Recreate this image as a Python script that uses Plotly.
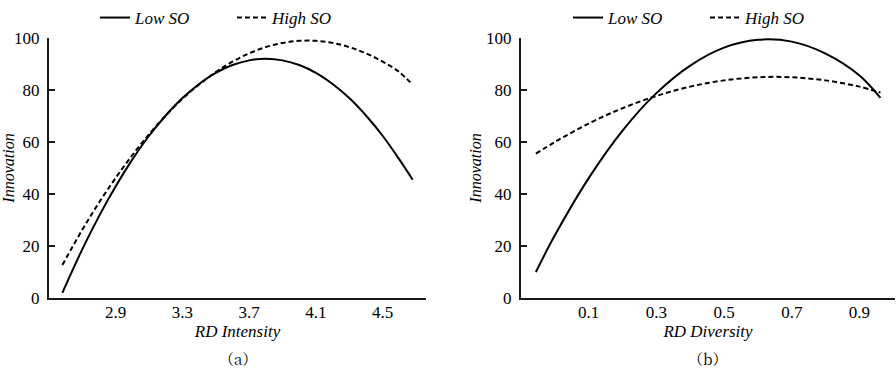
import plotly.graph_objects as go

# ---- data ----
intensity_x = [2.58, 2.7, 2.8, 2.9, 3.0, 3.1, 3.2, 3.3, 3.4, 3.5, 3.6, 3.7, 3.8, 3.9,
               4.0, 4.1, 4.2, 4.3, 4.4, 4.5, 4.6, 4.68]
intensity_low = [2.0, 18.8, 31.5, 43.0, 53.3, 62.4, 70.2, 76.9, 82.3, 86.6, 89.6, 91.4, 92.0,
                 91.4, 89.6, 86.6, 82.3, 76.9, 70.2, 62.4, 53.3, 45.5]
intensity_high = [12.7, 26.3, 36.7, 46.2, 55.0, 63.0, 70.2, 76.6, 82.1, 86.9, 90.9, 94.1, 96.5,
                  98.1, 98.9, 98.9, 98.1, 96.5, 94.1, 90.9, 86.9, 82.0]

diversity_x = [-0.056, 0.0, 0.1, 0.2, 0.3, 0.4, 0.5, 0.6, 0.7, 0.8, 0.9, 0.962]
diversity_low = [10.0, 24.1, 46.1, 64.4, 78.8, 89.4, 96.3, 99.3, 98.6, 94.0, 85.6, 77.0]
diversity_high = [55.5, 60.0, 67.1, 73.0, 77.7, 81.3, 83.7, 84.9, 84.9, 83.7, 81.3, 79.0]

intensity_ticks = [2.9, 3.3, 3.7, 4.1, 4.5]
diversity_ticks = [0.1, 0.3, 0.5, 0.7, 0.9]
y_ticks = [0, 20, 40, 60, 80, 100]
series_names = ["Low SO", "High SO"]

FONT = "Liberation Serif"
W, H = 896, 368

fig = go.Figure()

def add_pair(x, low, high, xa, ya, legend):
    fig.add_trace(go.Scatter(x=x, y=low, mode="lines", name=f"<i>{series_names[0]}</i>",
                             line=dict(color="black", width=2, shape="spline", smoothing=1.0),
                             xaxis=xa, yaxis=ya, legend=legend))
    fig.add_trace(go.Scatter(x=x, y=high, mode="lines", name=f"<i>{series_names[1]}</i>",
                             line=dict(color="black", width=2, dash="5px,3px", shape="spline", smoothing=1.0),
                             xaxis=xa, yaxis=ya, legend=legend))

add_pair(intensity_x, intensity_low, intensity_high, "x", "y", "legend")
add_pair(diversity_x, diversity_low, diversity_high, "x2", "y2", "legend2")

ydom = [1 - 298 / H, 1 - 38 / H]
axis_common = dict(showgrid=False, zeroline=False, showline=True, linecolor="#1a1a1a", linewidth=2,
                   tickfont=dict(family=FONT, size=17, color="black"))

xcommon = dict(ticks="", ticklabelstandoff=-2)
ycommon = dict(range=[0, 100], tickvals=y_ticks, ticks="inside", ticklen=6, tickwidth=2,
               tickcolor="#1a1a1a", ticklabelstandoff=4)

fig.update_layout(
    width=W, height=H,
    margin=dict(l=0, r=0, t=0, b=0, autoexpand=False),
    paper_bgcolor="white", plot_bgcolor="white",
    font=dict(family=FONT, color="black"),
    xaxis=dict(domain=[49 / W, 426 / W], range=[2.5, 4.76], tickvals=intensity_ticks,
               ticktext=[f"{v:.1f}" for v in intensity_ticks],
               title=dict(text="<i>RD Intensity</i>", font=dict(family=FONT, size=17), standoff=0),
               anchor="y", **xcommon, **axis_common),
    yaxis=dict(domain=ydom,
               title=dict(text="<i>Innovation</i>", font=dict(family=FONT, size=16), standoff=0),
               anchor="x", **ycommon, **axis_common),
    xaxis2=dict(domain=[521 / W, 895 / W], range=[-0.1, 1.005], tickvals=diversity_ticks,
                ticktext=[f"{v:.1f}" for v in diversity_ticks],
                title=dict(text="<i>RD Diversity</i>", font=dict(family=FONT, size=17), standoff=0),
                anchor="y2", **xcommon, **axis_common),
    yaxis2=dict(domain=ydom,
                title=dict(text="<i>Innovation</i>", font=dict(family=FONT, size=16), standoff=0),
                anchor="x2", **ycommon, **axis_common),
    legend=dict(orientation="h", x=95 / W, y=1 - 18 / H, xanchor="left", yanchor="middle",
                font=dict(family=FONT, size=17, color="black"), bgcolor="rgba(0,0,0,0)",
                itemwidth=30, tracegroupgap=0, entrywidth=92),
    legend2=dict(orientation="h", x=568 / W, y=1 - 18 / H, xanchor="left", yanchor="middle",
                 font=dict(family=FONT, size=17, color="black"), bgcolor="rgba(0,0,0,0)",
                 itemwidth=30, tracegroupgap=0, entrywidth=92),
    showlegend=True,
)

for label, cx in [("（a）", (49 + 426) / 2), ("（b）", (521 + 895) / 2)]:
    fig.add_annotation(text=label, x=cx / W, y=1 - 358 / H, xref="paper", yref="paper",
                       xanchor="center", yanchor="middle", showarrow=False,
                       font=dict(family="Noto Serif CJK SC, Noto Sans CJK SC", size=15, color="black"))

fig.write_html("out.html", config={"displayModeBar": False},
               post_script="document.body.style.margin='0';document.body.style.overflow='hidden';")
